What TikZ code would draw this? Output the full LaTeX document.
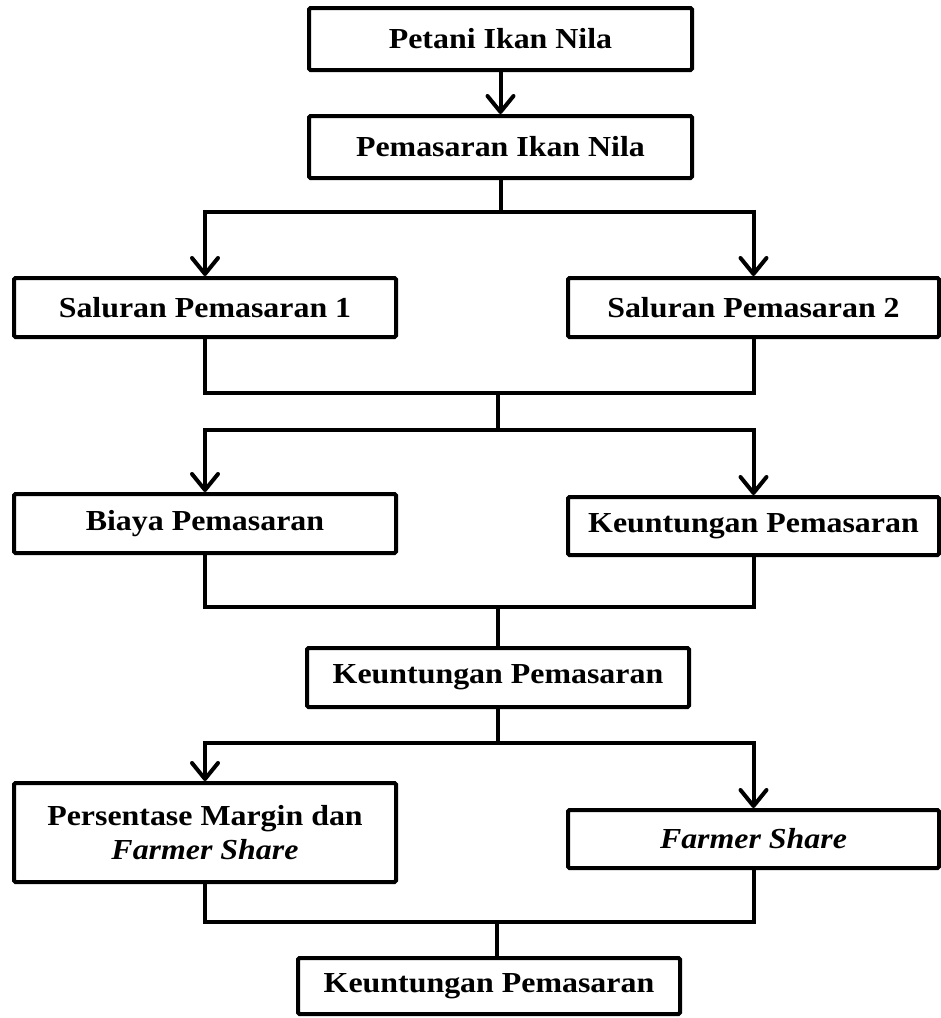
\documentclass[tikz,border=0pt]{standalone}
\usepackage{fontspec}
\setmainfont{Liberation Serif}[FakeStretch=1.1]
\usetikzlibrary{arrows.meta}

\begin{document}
\begin{tikzpicture}[x=1pt, y=-1pt, line width=4pt,
  every node/.style={draw, rectangle, rounded corners=1.5pt, inner sep=0pt, align=center,
    font=\fontsize{29}{34}\selectfont\bfseries},
  leftbox/.style={minimum width=382pt, minimum height=59pt},
  rightbox/.style={minimum width=371pt, minimum height=58pt},
  midbox/.style={minimum width=383pt, minimum height=62pt},
  flow/.style={-{Straight Barb[length=16pt, width=26pt, round]}}]
\useasboundingbox (0,0) rectangle (941,1018);
\node[midbox] (Petani) at (500.5,39) {Petani Ikan Nila};
\node[midbox] (Pemasaran) at (500.5,147) {Pemasaran Ikan Nila};
\node[leftbox] (Saluran1) at (205,307.5) {Saluran Pemasaran 1};
\node[rightbox, minimum height=59pt] (Saluran2) at (753.5,307.5) {Saluran Pemasaran 2};
\node[leftbox] (Biaya) at (205,523.5) {Biaya Pemasaran};
\node[rightbox] (UntungA) at (753.5,526) {Keuntungan Pemasaran};
\node[leftbox] (UntungB) at (498,677.5) {Keuntungan Pemasaran};
\node[leftbox, minimum height=99pt] (Persen) at (205,832.5) {Persentase Margin dan\\\textit{Farmer Share}};
\node[rightbox] (Farmer) at (753.5,839) {\textit{Farmer Share}};
\node[leftbox, minimum height=56pt] (UntungC) at (489,986) {Keuntungan Pemasaran};
% titik cabang dan titik gabung
\coordinate (J1) at (500.5,212);
\coordinate (M1) at (498,393);
\coordinate (J2) at (498,430);
\coordinate (M2) at (498,607);
\coordinate (J3) at (498,743);
\coordinate (M3) at (497,922);
\draw[flow] (Petani) -- (Pemasaran);
\draw (Pemasaran) -- (J1);
\draw[flow] (J1) -| (Saluran1);
\draw[flow] (J1) -| (Saluran2);
\draw (Saluran1) |- (M1);
\draw (Saluran2) |- (M1);
\draw (M1) -- (J2);
\draw[flow] (J2) -| (Biaya);
\draw[flow] (J2) -| (UntungA);
\draw (Biaya) |- (M2);
\draw (UntungA) |- (M2);
\draw (M2) -- (UntungB);
\draw (UntungB) -- (J3);
\draw[flow] (J3) -| (Persen);
\draw[flow] (J3) -| (Farmer);
\draw (Persen) |- (M3);
\draw (Farmer) |- (M3);
\draw (M3) -- (M3 |- UntungC.north);
\end{tikzpicture}
\end{document}
